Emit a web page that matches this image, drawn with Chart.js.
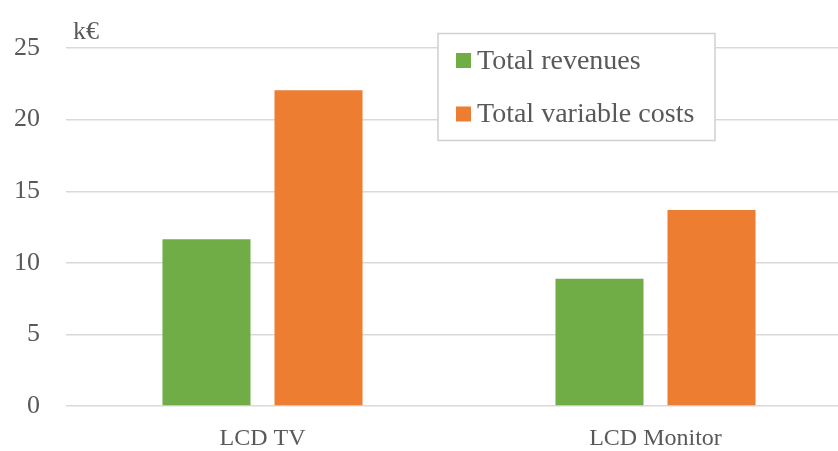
<!DOCTYPE html>
<html>
<head>
<meta charset="utf-8">
<script src="https://cdn.jsdelivr.net/npm/chart.js@4/dist/chart.umd.min.js"></script>
<style>
  html, body { margin: 0; padding: 0; background: #fff; overflow: hidden; }
  #wrap { position: relative; width: 852px; height: 451px; }
</style>
</head>
<body>
<div id="wrap"><canvas id="chart"></canvas></div>
<script>
const categories = ["LCD TV", "LCD Monitor"];
const totalRevenues = [11.65, 8.88];
const totalVariableCosts = [22.05, 13.68];
const yTicks = [0, 5, 10, 15, 20, 25];
const unitLabel = "k€";

const textColor = "#595959";
const fontFamily = "'Liberation Serif', 'Times New Roman', serif";

// legend box + unit label drawn inside the plot
const extrasPlugin = {
  id: "extras",
  afterDraw(chart) {
    const c = chart.ctx;
    const area = chart.chartArea;
    c.save();
    c.fillStyle = textColor;
    c.font = `26px ${fontFamily}`;
    c.textBaseline = "alphabetic";
    c.textAlign = "left";
    c.fillText(unitLabel, area.left + 7, 39);

    // legend
    c.fillStyle = "#fff";
    c.fillRect(438, 33.5, 277, 107);
    c.strokeStyle = "#d0d0d0";
    c.lineWidth = 1.5;
    c.strokeRect(438, 33.5, 277, 107);
    c.font = `28px ${fontFamily}`;
    c.textBaseline = "middle";
    chart.data.datasets.forEach((ds, i) => {
      const y = 60.5 + i * 53.5;
      c.fillStyle = ds.backgroundColor;
      c.fillRect(456, y - 7.5, 15, 15);
      c.fillStyle = textColor;
      c.fillText(ds.label, 477, y + 1);
    });
    c.restore();
  }
};

new Chart(document.getElementById("chart"), {
  type: "bar",
  data: {
    labels: categories,
    datasets: [
      {
        label: "Total revenues",
        data: totalRevenues,
        backgroundColor: "#70AD47",
        categoryPercentage: 0.57,
        barPercentage: 0.786
      },
      {
        label: "Total variable costs",
        data: totalVariableCosts,
        backgroundColor: "#ED7D31",
        categoryPercentage: 0.57,
        barPercentage: 0.786
      }
    ]
  },
  options: {
    responsive: true,
    maintainAspectRatio: false,
    animation: false,
    layout: { padding: { top: 48, right: 0, left: 0, bottom: 0 } },
    plugins: {
      legend: { display: false },
      tooltip: { enabled: false }
    },
    scales: {
      x: {
        grid: { display: false, drawTicks: false },
        border: { display: false },
        ticks: { color: textColor, font: { family: fontFamily, size: 24 }, padding: 18 },
        afterFit: (s) => { s.height = 45; }
      },
      y: {
        min: 0,
        max: 25,
        afterBuildTicks: (s) => { s.ticks = yTicks.map(v => ({ value: v })); },
        grid: { color: "#d9d9d9", lineWidth: 1.4, drawTicks: false },
        border: { display: false },
        ticks: { color: textColor, font: { family: fontFamily, size: 26 }, padding: 26 },
        afterFit: (s) => { s.width = 66; }
      }
    }
  },
  plugins: [extrasPlugin]
});
</script>
</body>
</html>
